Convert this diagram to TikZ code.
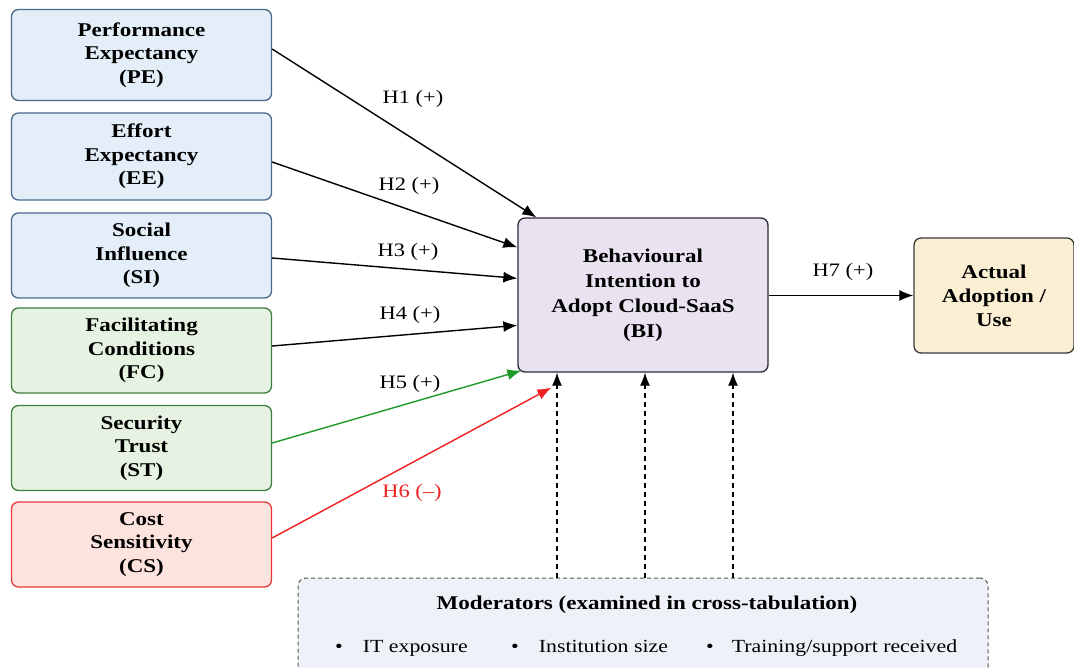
\documentclass[tikz,border=0pt]{standalone}
\usepackage{fontspec}
\setmainfont{Liberation Serif}[FakeStretch=1.18]
\usetikzlibrary{arrows.meta}
\definecolor{bluefill}{HTML}{E4EEF8}
\definecolor{blueline}{HTML}{4A6A8C}
\definecolor{greenfill}{HTML}{E7F3E2}
\definecolor{greenline}{HTML}{3F7F3F}
\definecolor{redfill}{HTML}{FDE3DE}
\definecolor{redline}{HTML}{E8383A}
\definecolor{bifill}{HTML}{E9E2F1}
\definecolor{biline}{HTML}{2E2A3A}
\definecolor{actfill}{HTML}{FBEFD3}
\definecolor{actline}{HTML}{3A3A3A}
\definecolor{modfill}{HTML}{EEF2F8}
\definecolor{modline}{HTML}{555555}
\definecolor{arrgreen}{HTML}{1E9A2A}
\definecolor{arrred}{HTML}{F02020}
\tikzset{
  box/.style={rounded corners=7pt, line width=1.3pt, align=center,
    font=\fontsize{19.5}{23.5}\selectfont\bfseries, inner sep=0pt,
    minimum width=260pt, minimum height=86pt},
  bluebox/.style={box, draw=blueline, fill=bluefill},
  greenbox/.style={box, draw=greenline, fill=greenfill},
  redbox/.style={box, draw=redline, fill=redfill},
  conn/.style={line width=1.4pt, -{Latex[length=14pt,width=11pt]}},
  dconn/.style={line width=1.1pt, dash pattern=on 5pt off 4pt, -{Latex[length=13pt,width=10pt]}},
  hlab/.style={font=\fontsize{19}{22}\selectfont, inner sep=0pt},
  modtext/.style={font=\fontsize{18.5}{22}\selectfont, inner sep=0pt, anchor=base west},
}
\begin{document}
\begin{tikzpicture}[x=1pt,y=-1pt]
\useasboundingbox (0,0) rectangle (1074,668);
\fill[white] (0,0) rectangle (1074,668);

\node[bluebox, minimum height=91pt] (PE) at (141.5,55) {Performance\\Expectancy\\(PE)};
\node[bluebox, minimum height=87pt] (EE) at (141.5,156.5) {Effort\\Expectancy\\(EE)};
\node[bluebox, minimum height=85pt] (SI) at (141.5,255.5) {Social\\Influence\\(SI)};
\node[greenbox, minimum height=85pt] (FC) at (141.5,350.5) {Facilitating\\Conditions\\(FC)};
\node[greenbox, minimum height=85pt] (ST) at (141.5,448) {Security\\Trust\\(ST)};
\node[redbox, minimum height=85pt] (CS) at (141.5,544.5) {Cost\\Sensitivity\\(CS)};

\node[box, draw=biline, fill=bifill, minimum width=250pt, minimum height=154pt,
      font=\fontsize{19.5}{25}\selectfont\bfseries] (BI) at (643,295)
      {Behavioural\\Intention to\\Adopt Cloud-SaaS\\(BI)};
\node[box, draw=actline, fill=actfill, minimum width=160pt, minimum height=115pt,
      font=\fontsize{19.5}{24}\selectfont\bfseries] (AA) at (994,295.5)
      {Actual\\Adoption /\\Use};

\node[rounded corners=8pt, draw=modline, fill=modfill, line width=1pt,
      dash pattern=on 4pt off 3pt, minimum width=690pt, minimum height=120pt,
      inner sep=0pt] (MOD) at (643,638) {};
\node[font=\fontsize{19.5}{23}\selectfont\bfseries, inner sep=0pt] (MT) at (647,605)
      {Moderators (examined in cross-tabulation)};
\node[modtext] (M1) at (335,652) {\textbullet\hspace{20pt}IT exposure};
\node[modtext] (M2) at (511,652) {\textbullet\hspace{20pt}Institution size};
\node[modtext] (M3) at (706,652) {\textbullet\hspace{18pt}Training/support received};

% arrows from constructs
\draw[conn] ([yshift=6pt]PE.east) -- ([xshift=19pt]BI.north west);
\draw[conn] ([yshift=-5.5pt]EE.east) -- ([yshift=-30pt]BI.north west);
\draw[conn] ([yshift=-2.5pt]SI.east) -- ([yshift=-61pt]BI.north west);
\draw[conn] ([yshift=4.5pt]FC.east) -- ([yshift=-108pt]BI.north west);
\draw[conn, draw=arrgreen, fill=arrgreen] ([yshift=5pt]ST.east) -- ([xshift=4pt,yshift=2pt]BI.south west);
\coordinate (CStip) at ([xshift=34pt,yshift=-15pt]BI.south west);
\draw[conn, draw=arrred, fill=arrred] ([yshift=6.5pt]CS.east) -- (CStip);
\draw[conn] (BI.east |- AA.west) -- (AA.west);

% moderator arrows
\draw[dconn] ([xshift=-86pt]MOD.north) -- ([xshift=-86pt]BI.south);
\draw[dconn] ([xshift=2pt]MOD.north) -- ([xshift=2pt]BI.south);
\draw[dconn] ([xshift=90pt]MOD.north) -- ([xshift=90pt]BI.south);

% labels
\node[hlab] (L1) at (413,99) {H1 (+)};
\node[hlab] (L2) at (409,186) {H2 (+)};
\node[hlab] (L3) at (408,252) {H3 (+)};
\node[hlab] (L4) at (410,315) {H4 (+)};
\node[hlab] (L5) at (410,384) {H5 (+)};
\node[hlab, text=arrred] (L6) at (412,493) {H6 (–)};
\node[hlab] (L7) at (843,272) {H7 (+)};
\end{tikzpicture}
\end{document}
